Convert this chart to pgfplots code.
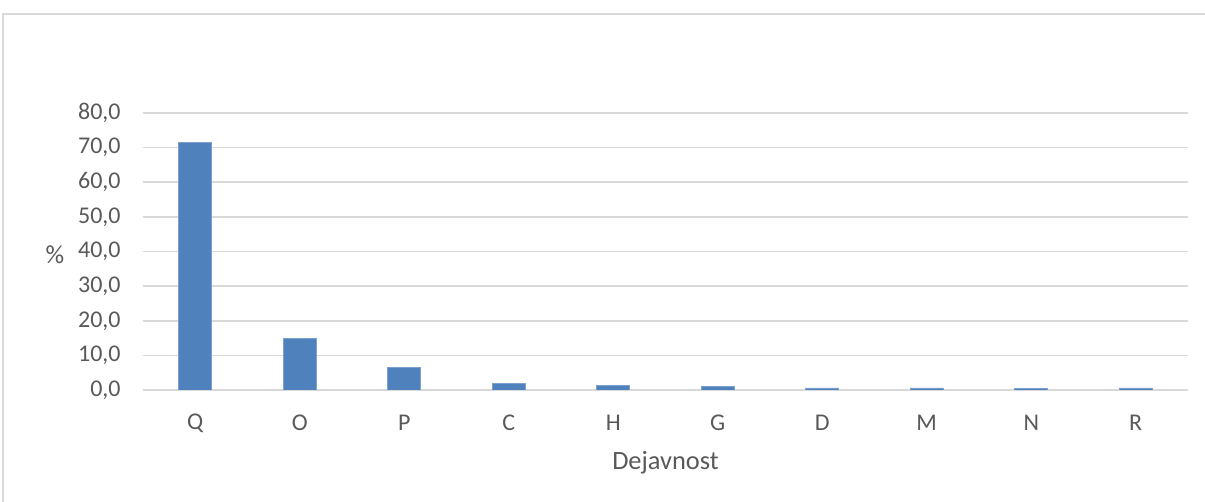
\documentclass[border=0pt]{standalone}
\usepackage{fontspec}
\setmainfont{Carlito}
\usepackage{pgfplots}
\pgfplotsset{compat=1.18}
\definecolor{barmodra}{HTML}{4F81BD}
\definecolor{besedilo}{HTML}{595959}
\definecolor{mreza}{HTML}{D9D9D9}
\begin{document}
\begin{tikzpicture}
\useasboundingbox (-71.5pt,-56pt) rectangle (531pt,195pt);
\draw[mreza, line width=0.6pt] (-70pt,-60pt) -- (-70pt,188pt) -- (535pt,188pt);
\begin{axis}[
    scale only axis,
    width=522.5pt, height=138.5pt,
    at={(0pt,0pt)}, anchor=south west,
    xmin=-0.5, xmax=9.5, ymin=0, ymax=80,
    xtick={0,...,9},
    xticklabels={Q,O,P,C,H,G,D,M,N,R},
    ytick={0,10,...,80},
    major tick length=0pt,
    axis line style={draw=none},
    ymajorgrids, grid style={mreza, line width=0.8pt},
    font=\fontsize{12}{14}\selectfont,
    tick label style={text=besedilo},
    yticklabel style={anchor=east, inner sep=0pt, xshift=-11pt,
        /pgf/number format/.cd, fixed, fixed zerofill, precision=1, use comma, assume math mode=true},
    xticklabel style={anchor=center, inner sep=0pt, yshift=-16.5pt},
    xlabel={Dejavnost},
    xlabel style={at={(axis description cs:0.5,0)}, anchor=center, yshift=-36.5pt,
        text=besedilo, font=\fontsize{13.2}{15}\selectfont},
]
\addplot[ybar, bar width=0.316, fill=barmodra, draw=barmodra!75!white, line width=0.4pt]
  coordinates {
    (0,71.4) (1,15.0) (2,6.4) (3,1.9) (4,1.4)
    (5,0.9) (6,0.6) (7,0.6) (8,0.4) (9,0.6)};
\end{axis}
\node[text=besedilo, font=\fontsize{13}{15}\selectfont] at (-44pt,67.5pt) {\%};
\end{tikzpicture}
\end{document}
